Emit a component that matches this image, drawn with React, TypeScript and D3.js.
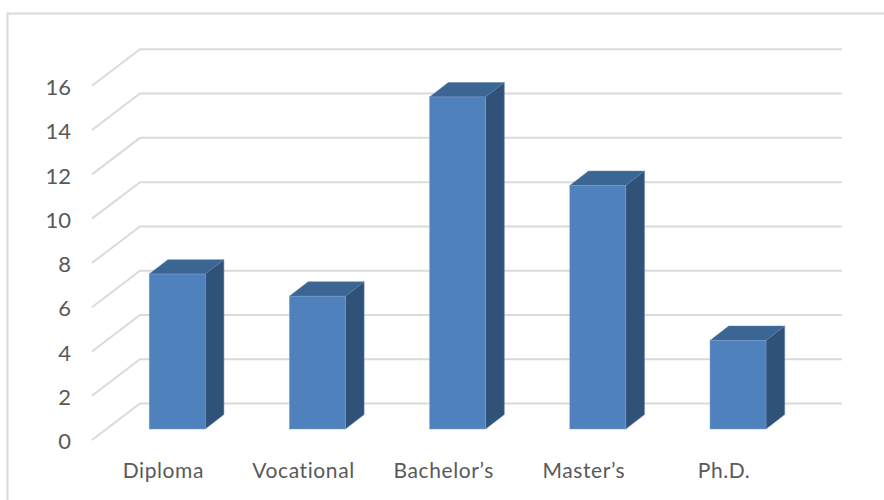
import React from "react";
import * as d3 from "d3";

const categories = ["Diploma", "Vocational", "Bachelor’s", "Master’s", "Ph.D."];
const counts = [7, 6, 15, 11, 4];
const yTicks = [0, 2, 4, 6, 8, 10, 12, 14, 16];

const WIDTH = 884;
const HEIGHT = 500;
const FONT = "Lato, 'Open Sans', sans-serif";
const GRID = "#dadada";

// Oblique projection of the 3D column chart
const wallDx = 48;
const wallDy = 36.5;
const barInsetDy = 25.5;
const barDx = 18.7;
const barDy = 14.4;

const yWall = d3.scaleLinear().domain([0, 16]).range([403.5, 49.3]);
const x = d3.scaleBand<string>().domain(categories).range([93.2, 794.2]).padding(0);
const barWidth = 56;
const barShift = 56;

export default function App() {
  return (
    <svg
      width={WIDTH}
      height={HEIGHT}
      style={{ position: "fixed", left: 0, top: 0, display: "block" }}
      fontFamily={FONT}
    >
      <rect width={WIDTH} height={HEIGHT} fill="#fff" />
      <path d={`M7.5,${HEIGHT}V13.5H${WIDTH}`} fill="none" stroke={GRID} strokeWidth={2} />

      {yTicks.map((t) => {
        const y = yWall(t);
        return (
          <g key={t}>
            <path
              d={`M${140 - wallDx},${y + wallDy}L140,${y}H842`}
              fill="none"
              stroke={GRID}
              strokeWidth={2}
            />
            <text x={71} y={y + wallDy + 9.3} textAnchor="end" fontSize={22} fill="#595959">
              {t}
            </text>
          </g>
        );
      })}

      {categories.map((c, i) => {
        const left = (x(c) as number) + barShift;
        const right = left + barWidth;
        const top = yWall(counts[i]) + barInsetDy;
        const bottom = yWall(0) + barInsetDy;
        return (
          <g key={c}>
            <path
              d={`M${left},${top}L${left + barDx},${top - barDy}H${right + barDx}L${right},${top}Z`}
              fill="#3b6592"
              stroke="#5f83ad"
              strokeWidth={0.5}
            />
            <path
              d={`M${right},${top}L${right + barDx},${top - barDy}V${bottom - barDy}L${right},${bottom}Z`}
              fill="#305279"
              stroke="#5f83ad"
              strokeWidth={0.5}
            />
            <rect x={left} y={top} width={barWidth} height={bottom - top} fill="#4f81bd" stroke="#7fa3d0" strokeWidth={0.5} />
            <text
              x={(x(c) as number) + x.bandwidth() / 2}
              y={478}
              textAnchor="middle"
              fontSize={21}
              letterSpacing={0.6}
              fill="#595959"
            >
              {c}
            </text>
          </g>
        );
      })}
    </svg>
  );
}
